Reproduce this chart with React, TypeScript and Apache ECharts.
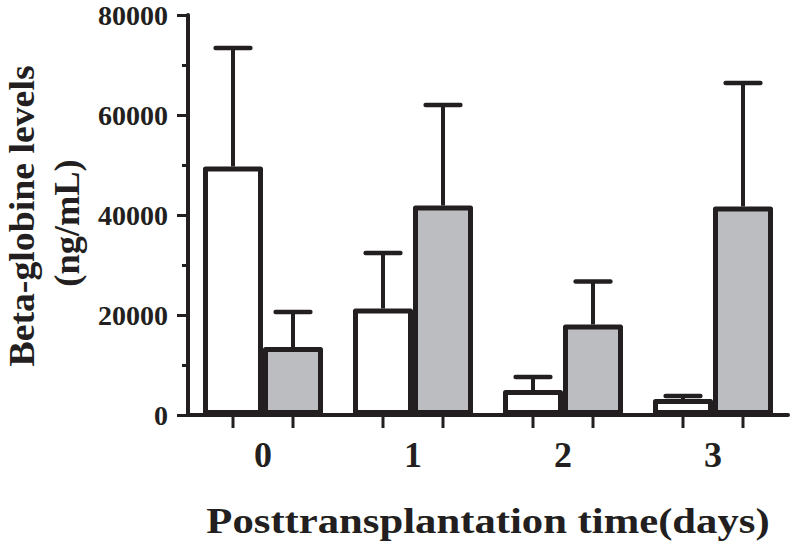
import React, { useEffect, useRef } from "react";
import * as echarts from "echarts";

const categories = ["0", "1", "2", "3"];
const whiteMeans = [49700, 21300, 5000, 3200];
const whiteUpper = [73400, 32400, 7600, 3800];
const grayMeans = [13600, 41900, 18100, 41700];
const grayUpper = [20600, 62000, 26700, 66400];
const yTicks = { min: 0, max: 80000, interval: 20000 };

const INK = "#231f20";
const GRAY = "#bcbdc0";
const FONT = "'Liberation Serif', 'Times New Roman', serif";

export default function App() {
  const ref = useRef<HTMLDivElement>(null);
  useEffect(() => {
    if (!ref.current) return;
    const chart = echarts.init(ref.current, null, { renderer: "svg" });

    const makeErr = (means: number[], upper: number[], side: number) => ({
      type: "custom",
      z: 5,
      clip: false,
      data: categories.map((_, i) => [i, upper[i], means[i]]),
      encode: { x: 0, y: 1 },
      renderItem: (params: any, api: any) => {
        const i = api.value(0);
        const hi = api.value(1);
        const mean = api.value(2);
        const band = api.size([1, 0])[0];
        const barW = band * 0.4;
        const pMean = api.coord([i, mean]);
        const pHi = api.coord([i, hi]);
        const p0 = api.coord([i, 0]);
        const x = pMean[0] + (side * barW) / 2;
        const capHalf = barW * 0.29;
        const ls = { stroke: INK, lineWidth: 4.5, lineCap: "round" };
        return {
          type: "group",
          children: [
            { type: "line", shape: { x1: x, y1: pMean[1], x2: x, y2: pHi[1] }, style: { stroke: INK, lineWidth: 4 } },
            { type: "line", shape: { x1: x - capHalf, y1: pHi[1], x2: x + capHalf, y2: pHi[1] }, style: ls },
            { type: "line", shape: { x1: x, y1: p0[1], x2: x, y2: p0[1] + 13 }, style: { stroke: INK, lineWidth: 3 } },
          ],
        };
      },
    });

    chart.setOption({
      animation: false,
      backgroundColor: "#ffffff",
      grid: { left: 188, top: 15, width: 600, height: 400, containLabel: false },
      xAxis: {
        type: "category",
        data: categories,
        boundaryGap: true,
        axisLine: { lineStyle: { color: INK, width: 4 } },
        axisTick: { show: false },
        axisLabel: {
          color: INK,
          fontFamily: FONT,
          fontWeight: "bold",
          fontSize: 36,
          margin: 22,
        },
        splitLine: { show: false },
      },
      yAxis: {
        type: "value",
        min: yTicks.min,
        max: yTicks.max,
        interval: yTicks.interval,
        axisLine: { show: true, lineStyle: { color: INK, width: 4 } },
        axisTick: { show: true, length: 11, lineStyle: { color: INK, width: 3 } },
        minorTick: { show: true, splitNumber: 2, length: 6, lineStyle: { color: INK, width: 3 } },
        axisLabel: {
          color: INK,
          fontFamily: FONT,
          fontWeight: "bold",
          fontSize: 28,
          margin: 20,
          formatter: (v: number) => String(v),
        },
        splitLine: { show: false },
      },
      series: [
        {
          type: "bar",
          data: whiteMeans,
          barWidth: "40%",
          barGap: "0%",
          itemStyle: { color: "#ffffff", borderColor: INK, borderWidth: 5, borderJoin: "round" },
        },
        {
          type: "bar",
          data: grayMeans,
          barWidth: "40%",
          barGap: "0%",
          itemStyle: { color: GRAY, borderColor: INK, borderWidth: 5, borderJoin: "round" },
        },
        makeErr(whiteMeans, whiteUpper, -1),
        makeErr(grayMeans, grayUpper, 1),
      ],
      graphic: [
        {
          type: "text",
          x: 22,
          y: 216,
          rotation: Math.PI / 2,
          scaleX: 1.08,
          style: {
            text: "Beta-globine levels",
            font: `bold 35px ${FONT}`,
            fill: INK,
            textAlign: "center",
            textVerticalAlign: "middle",
          },
        },
        {
          type: "text",
          x: 67,
          y: 223,
          rotation: Math.PI / 2,
          scaleX: 1.04,
          style: {
            text: "(ng/mL)",
            font: `bold 35px ${FONT}`,
            fill: INK,
            textAlign: "center",
            textVerticalAlign: "middle",
          },
        },
        {
          type: "text",
          x: 488,
          y: 521,
          scaleX: 1.22,
          style: {
            text: "Posttransplantation time(days)",
            font: `bold 35px ${FONT}`,
            fill: INK,
            textAlign: "center",
            textVerticalAlign: "middle",
          },
        },
      ],
    });
    return () => chart.dispose();
  }, []);
  return <div ref={ref} style={{ width: 797, height: 552, position: "absolute", left: 0, top: 0 }} />;
}
